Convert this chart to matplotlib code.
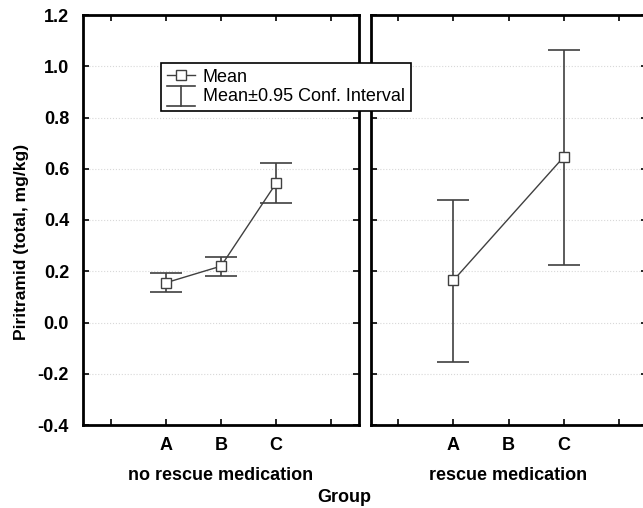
import matplotlib
matplotlib.use("Agg")
import matplotlib.pyplot as plt
from matplotlib.lines import Line2D
from matplotlib.legend_handler import HandlerBase

plt.rcParams['font.family'] = ['Liberation Sans', 'DejaVu Sans']

groups = ['', 'A', 'B', 'C', '']
panels = ['no rescue medication', 'rescue medication']

# left panel: no rescue medication
no_rescue_groups = ['A', 'B', 'C']
no_rescue_mean = [0.155, 0.220, 0.544]
no_rescue_lo = [0.118, 0.181, 0.466]
no_rescue_hi = [0.193, 0.255, 0.622]

# right panel: rescue medication (no B)
rescue_groups = ['A', 'C']
rescue_mean = [0.164, 0.646]
rescue_lo = [-0.154, 0.225]
rescue_hi = [0.479, 1.065]

col = '#404040'
fig = plt.figure(figsize=(6.43, 5.08), dpi=100)
W, H = 643, 508
ax1 = fig.add_axes([83 / W, 1 - 425 / H, 276 / W, 410 / H])
ax2 = fig.add_axes([370.5 / W, 1 - 425 / H, 276 / W, 410 / H])

def draw(ax, cats, mean, lo, hi, title):
    pos = [groups.index(c) + 0.5 for c in cats]
    yerr = [[m - l for m, l in zip(mean, lo)], [h - m for m, h in zip(mean, hi)]]
    ax.errorbar(pos, mean, yerr=yerr, fmt='none', ecolor=col, elinewidth=1.2,
                capsize=11.5, capthick=1.2, zorder=2)
    ax.plot(pos, mean, color=col, lw=1.0, marker='s', ms=7, mfc='white',
            mec=col, mew=1.0, zorder=3)
    ax.set_xlim(0, 5)
    ax.set_ylim(-0.4, 1.2)
    ax.set_xticks([0.5, 1.5, 2.5, 3.5, 4.5])
    ax.set_xticklabels(groups, fontweight='bold', fontsize=13)
    ax.set_yticks([-0.4, -0.2, 0.0, 0.2, 0.4, 0.6, 0.8, 1.0, 1.2])
    ax.grid(axis='y', color='#d8d8d8', lw=0.8, ls=':')
    ax.tick_params(direction='in', top=True, right=True, length=4, width=1.2, pad=9)
    for s in ax.spines.values():
        s.set_linewidth(2)
    ax.set_xlabel(title, fontweight='bold', fontsize=13, labelpad=9)

draw(ax1, no_rescue_groups, no_rescue_mean, no_rescue_lo, no_rescue_hi, panels[0])
draw(ax2, rescue_groups, rescue_mean, rescue_lo, rescue_hi, panels[1])

ax1.set_yticklabels(['-0.4', '-0.2', '0.0', '0.2', '0.4', '0.6', '0.8', '1.0', '1.2'],
                    fontweight='bold', fontsize=13)
ax1.tick_params(axis='y', pad=10)
ax2.tick_params(labelleft=False)
ax1.set_ylabel('Piritramid (total, mg/kg)', fontweight='bold', fontsize=12.5)
ax1.yaxis.set_label_coords(-0.196, 0.446)

fig.text(344 / W, 1 - 497 / H, 'Group', ha='center', va='center',
         fontweight='bold', fontsize=13)


class HandlerCI(HandlerBase):
    def create_artists(self, legend, orig_handle, xdescent, ydescent, width, height,
                       fontsize, trans):
        x0 = -xdescent
        cx = x0 + width / 2
        y0 = -ydescent - 3
        y1 = -ydescent + height + 2
        segs = [([cx, cx], [y0, y1]), ([x0, x0 + width], [y0, y0]),
                ([x0, x0 + width], [y1, y1])]
        arts = []
        for xs, ys in segs:
            ln = Line2D(xs, ys, color=col, lw=1.2, transform=trans)
            arts.append(ln)
        return arts


mean_handle = Line2D([], [], color=col, lw=1.0, marker='s', ms=7, mfc='white', mec=col)
ci_handle = Line2D([], [], color=col)
leg = fig.legend([mean_handle, ci_handle], ['Mean', 'Mean\u00b10.95 Conf. Interval'],
                 handler_map={ci_handle: HandlerCI()},
                 loc='upper left', bbox_to_anchor=(161 / W, 1 - 63 / H),
                 fancybox=False, framealpha=1, edgecolor='black', fontsize=13,
                 borderpad=0.32, labelspacing=0.15, handlelength=1.55, handletextpad=0.45,
                 borderaxespad=0)
leg.get_frame().set_linewidth(1.2)

fig.savefig('out.png', dpi=100)
